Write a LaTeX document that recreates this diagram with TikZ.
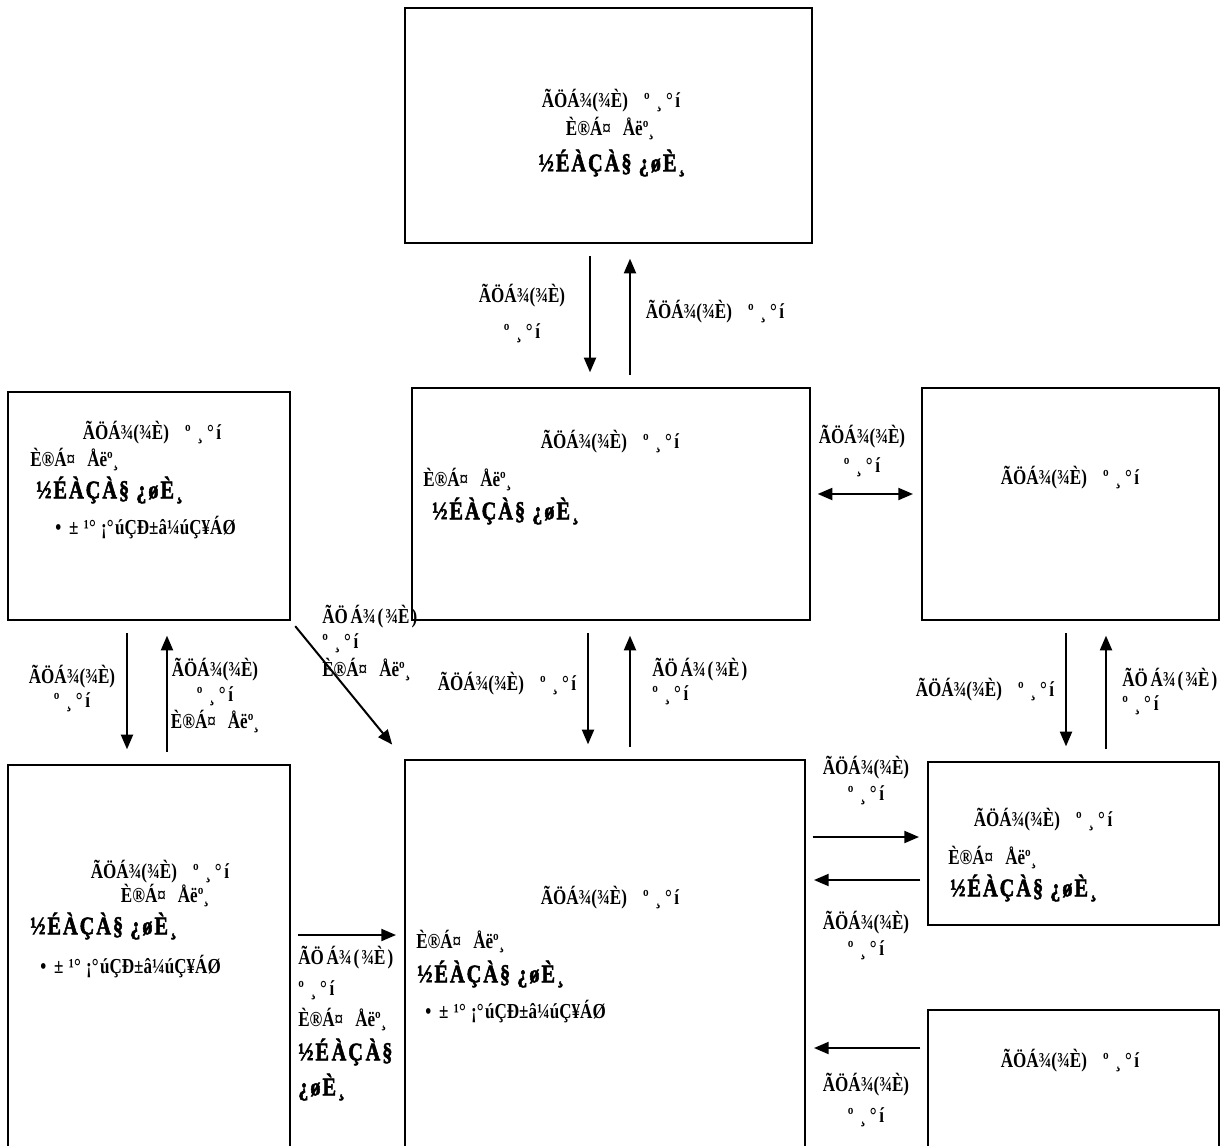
\documentclass[tikz,border=0pt]{standalone}
\usepackage{fontspec}
\setmainfont{Liberation Serif}[FakeStretch=0.8]
\newfontfamily\heavyfont{Liberation Serif}[FakeStretch=0.8, FakeBold=2, LetterSpace=8]
\usetikzlibrary{arrows.meta,fit}
\newcommand{\finan}{ÃÖÁ¾(¾È)}
\newcommand{\finsp}{ÃÖ\hspace{2pt}Á¾\hspace{1.5pt}(\hspace{1.5pt}¾È\hspace{1.5pt})}
\newcommand{\bogo}{º\hspace{5pt}¸\hspace{3pt}°\hspace{2pt}í}
\newcommand{\finrep}{\finan\hspace{12pt}\bogo}
\newcommand{\tongbo}{È®Á¤\hspace{9pt}Åëº¸}
\newcommand{\simui}{½ÉÀÇÀ§ ¿øÈ¸}
\newcommand{\gukga}{•\hspace{6pt}±\hspace{4pt}¹°\hspace{4pt}¡°\hspace{1pt}úÇÐ±â¼úÇ¥ÁØ}
\tikzset{
  box/.style={draw, line width=1.5pt, inner sep=0pt},
  txt/.style={inner sep=0pt, font=\bfseries\fontsize{16}{19}\selectfont},
  big/.style={inner sep=0pt, font=\heavyfont\bfseries\fontsize{19}{22}\selectfont},
  arr/.style={line width=1.5pt, >={Triangle[length=11pt,width=9pt]}},
  vgap/.style={shorten <=9pt, shorten >=11pt},
  hgap/.style={shorten <=5pt, shorten >=6pt}
}
\begin{document}
\begin{tikzpicture}[x=0.75pt,y=-0.75pt]
\useasboundingbox (0,0) rectangle (1221,1146);
% boxes
\node[box, fit={(405,8) (812,243)}] (T) {};
\node[box, fit={(412,388) (810,620)}] (M) {};
\node[box, fit={(8,392) (290,620)}] (L) {};
\node[box, fit={(922,388) (1219,620)}] (R) {};
\node[box, fit={(8,765) (290,1160)}] (LL) {};
\node[box, fit={(405,760) (805,1160)}] (C) {};
\node[box, fit={(928,762) (1219,925)}] (RM) {};
\node[box, fit={(928,1010) (1219,1160)}] (RB) {};
% box texts
\node[txt] (t1) at (611,101) {\finrep};
\node[txt] (t2) at (610,129) {\tongbo};
\node[big] (t3) at (612,163) {\simui};
\node[txt] (m1) at (610,442) {\finrep};
\node[txt, anchor=west] (m2) at (423,480) {\tongbo};
\node[big, anchor=west] (m3) at (432,511) {\simui};
\node[txt] (l1) at (152,433) {\finrep};
\node[txt, anchor=west] (l2) at (30,460) {\tongbo};
\node[big, anchor=west] (l3) at (36,490) {\simui};
\node[txt, anchor=west] (l4) at (55,528) {\gukga};
\node[txt] (r1) at (1070,478) {\finrep};
\node[txt] (ll1) at (160,872) {\finrep};
\node[txt] (ll2) at (165,896) {\tongbo};
\node[big, anchor=west] (ll3) at (30,926) {\simui};
\node[txt, anchor=west] (ll4) at (40,967) {\gukga};
\node[txt] (c1) at (610,898) {\finrep};
\node[txt, anchor=west] (c2) at (416,942) {\tongbo};
\node[big, anchor=west] (c3) at (417,974) {\simui};
\node[txt, anchor=west] (c4) at (425,1012) {\gukga};
\node[txt] (rm1) at (1043,820) {\finrep};
\node[txt, anchor=west] (rm2) at (948,858) {\tongbo};
\node[big, anchor=west] (rm3) at (950,888) {\simui};
\node[txt] (rb1) at (1070,1061) {\finrep};
% arrows
\draw[arr,->,vgap] (T.south -| 590,0) -- (M.north -| 590,0);
\draw[arr,->,vgap] (M.north -| 630,0) -- (T.south -| 630,0);
\draw[arr,<->,hgap] (M.east |- 0,494) -- (R.west |- 0,494);
\draw[arr,->,vgap] (L.south -| 127,0) -- (LL.north -| 127,0);
\draw[arr,->,vgap] (LL.north -| 167,0) -- (L.south -| 167,0);
\draw[arr,->,shorten <=5pt,shorten >=14pt] (L.south east) -- (C.north west);
\draw[arr,->,vgap] (M.south -| 588,0) -- (C.north -| 588,0);
\draw[arr,->,vgap] (C.north -| 630,0) -- (M.south -| 630,0);
\draw[arr,->,vgap] (R.south -| 1066,0) -- (RM.north -| 1066,0);
\draw[arr,->,vgap] (RM.north -| 1106,0) -- (R.south -| 1106,0);
\draw[arr,->,hgap] (C.east |- 0,837) -- (RM.west |- 0,837);
\draw[arr,->,hgap] (RM.west |- 0,880) -- (C.east |- 0,880);
\draw[arr,->,hgap] (RB.west |- 0,1048) -- (C.east |- 0,1048);
\draw[arr,->,hgap] (LL.east |- 0,935) -- (C.west |- 0,935);
% arrow labels
\node[txt] (a1) at (522,296) {\finan};
\node[txt] (a2) at (522,333) {\bogo};
\node[txt] (b1) at (715,312) {\finrep};
\node[txt] (c5) at (862,437) {\finan};
\node[txt] (c6) at (862,467) {\bogo};
\node[txt] (d1) at (72,677) {\finan};
\node[txt] (d2) at (72,702) {\bogo};
\node[txt] (e1) at (215,670) {\finan};
\node[txt] (e2) at (215,696) {\bogo};
\node[txt] (e3) at (215,722) {\tongbo};
\node[txt, anchor=west] (f1) at (322,617) {\finsp};
\node[txt, anchor=west] (f2) at (322,643) {\bogo};
\node[txt, anchor=west] (f3) at (322,670) {\tongbo};
\node[txt] (g1) at (507,684) {\finrep};
\node[txt, anchor=west] (g2) at (652,670) {\finsp};
\node[txt, anchor=west] (g3) at (652,695) {\bogo};
\node[txt] (h1) at (985,690) {\finrep};
\node[txt, anchor=west] (h2) at (1122,680) {\finsp};
\node[txt, anchor=west] (h3) at (1122,705) {\bogo};
\node[txt] (i1) at (866,768) {\finan};
\node[txt] (i2) at (866,795) {\bogo};
\node[txt] (j1) at (866,923) {\finan};
\node[txt] (j2) at (866,950) {\bogo};
\node[txt] (k1) at (866,1085) {\finan};
\node[txt] (k2) at (866,1117) {\bogo};
\node[txt, anchor=west] (n1) at (298,958) {\finsp};
\node[txt, anchor=west] (n2) at (298,990) {\bogo};
\node[txt, anchor=west] (n3) at (298,1020) {\tongbo};
\node[big, anchor=west] (n4) at (298,1052) {½É\hspace{2pt}ÀÇ\hspace{2pt}À§};
\node[big, anchor=west] (n5) at (298,1087) {¿øÈ¸};
\end{tikzpicture}
\end{document}
